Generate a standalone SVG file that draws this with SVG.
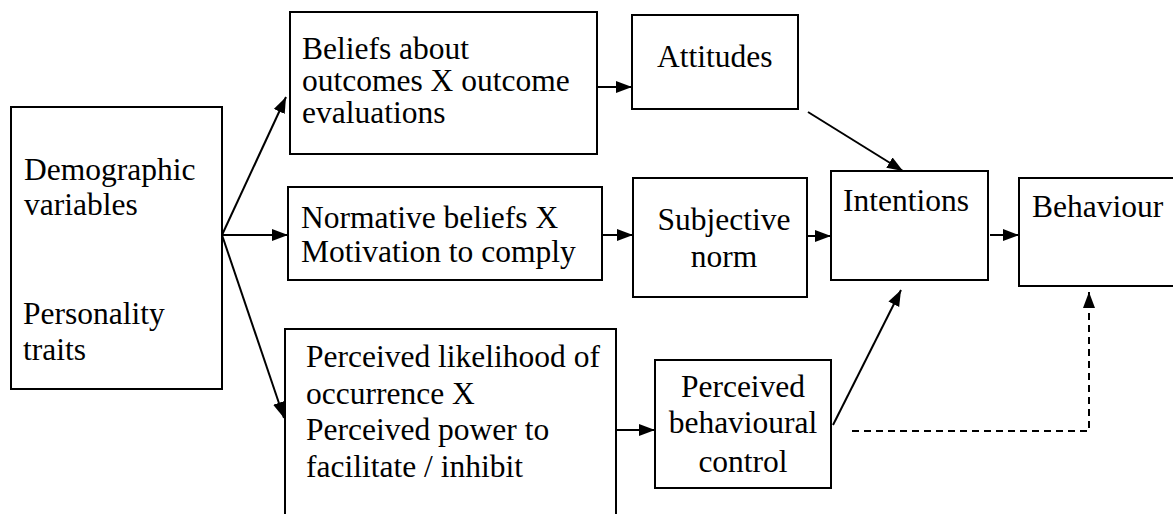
<svg xmlns="http://www.w3.org/2000/svg" width="1173" height="514" viewBox="0 0 1173 514">
<style>
.box{fill:#fff;stroke:#000;stroke-width:2}
.t{font-family:'Liberation Serif','Times New Roman',serif;font-size:31.5px;fill:#000}
.c{text-anchor:middle}
</style>
<defs>
<marker id="ah" markerUnits="userSpaceOnUse" markerWidth="18" markerHeight="14" refX="16" refY="6" orient="auto" viewBox="0 0 18 14">
<path d="M0,0 L16,6 L0,12 z" fill="#000"/>
</marker>
</defs>
<rect width="1173" height="514" fill="#fff"/>
<g id="connectors" fill="none" stroke="#000" stroke-width="2">
<line x1="222" y1="235" x2="286" y2="97" marker-end="url(#ah)"/>
<line x1="222" y1="235" x2="288" y2="235" marker-end="url(#ah)"/>
<line x1="222" y1="235" x2="284" y2="418" marker-end="url(#ah)"/>
<line x1="597" y1="87" x2="632" y2="87" marker-end="url(#ah)"/>
<line x1="602" y1="235" x2="633" y2="235" marker-end="url(#ah)"/>
<line x1="616" y1="430" x2="655" y2="430" marker-end="url(#ah)"/>
<line x1="808" y1="112" x2="903" y2="171" marker-end="url(#ah)"/>
<line x1="807" y1="236" x2="831" y2="236" marker-end="url(#ah)"/>
<line x1="833" y1="425" x2="901" y2="290" marker-end="url(#ah)"/>
<line x1="990" y1="235" x2="1019" y2="235" marker-end="url(#ah)"/>
<path d="M852,431 H1089 V292" stroke-dasharray="7,5" marker-end="url(#ah)"/>
</g>
<g id="demographic">
<rect class="box" x="11" y="107" width="211" height="282"/>
<text class="t" x="24" y="180">Demographic</text>
<text class="t" x="24" y="215">variables</text>
<text class="t" x="23" y="324">Personality</text>
<text class="t" x="23" y="360">traits</text>
</g>
<g id="beliefs">
<rect class="box" x="290" y="12" width="307" height="142"/>
<text class="t" x="302" y="59">Beliefs about</text>
<text class="t" x="302" y="91">outcomes X outcome</text>
<text class="t" x="302" y="123">evaluations</text>
</g>
<g id="attitudes">
<rect class="box" x="632" y="15" width="166" height="94"/>
<text class="t" x="657" y="67">Attitudes</text>
</g>
<g id="normative">
<rect class="box" x="288" y="187" width="314" height="93"/>
<text class="t" x="301" y="228">Normative beliefs X</text>
<text class="t" x="301" y="262">Motivation to comply</text>
</g>
<g id="subjective">
<rect class="box" x="633" y="178" width="174" height="119"/>
<text class="t c" x="724" y="230">Subjective</text>
<text class="t c" x="724" y="267">norm</text>
</g>
<g id="intentions">
<rect class="box" x="831" y="171" width="157" height="109"/>
<text class="t" x="843" y="211">Intentions</text>
</g>
<g id="behaviour">
<rect class="box" x="1019" y="178" width="160" height="108"/>
<text class="t" x="1032" y="217">Behaviour</text>
</g>
<g id="perceived-likelihood">
<rect class="box" x="285" y="329" width="331" height="200"/>
<text class="t" x="306" y="367">Perceived likelihood of</text>
<text class="t" x="306" y="404">occurrence X</text>
<text class="t" x="306" y="440">Perceived power to</text>
<text class="t" x="306" y="477">facilitate / inhibit</text>
</g>
<g id="pbc">
<rect class="box" x="655" y="360" width="176" height="128"/>
<text class="t c" x="743" y="397">Perceived</text>
<text class="t c" x="743" y="433">behavioural</text>
<text class="t c" x="743" y="472">control</text>
</g>
</svg>
